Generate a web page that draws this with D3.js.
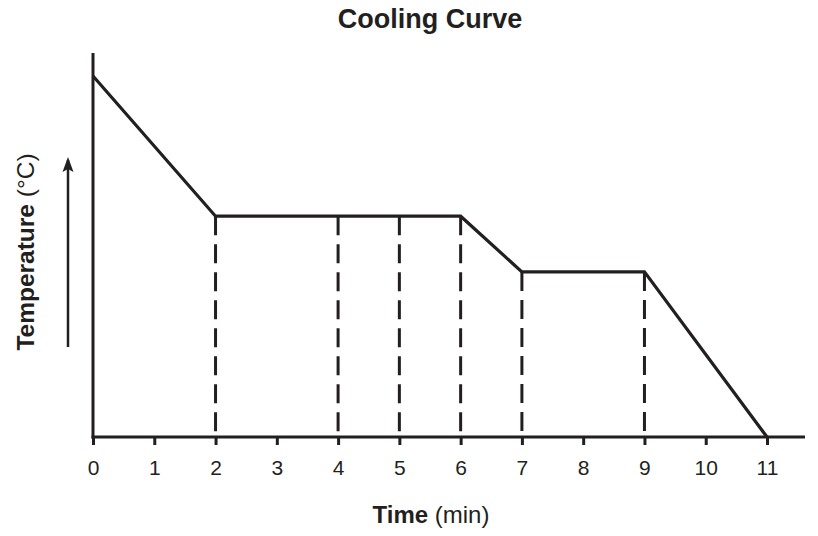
<!DOCTYPE html>
<html>
<head>
<meta charset="utf-8">
<script src="https://cdn.jsdelivr.net/npm/d3@7/dist/d3.min.js"></script>
<style>
  html, body { margin: 0; padding: 0; background: #fff; }
  text { font-family: "Liberation Sans", Arial, Helvetica, sans-serif; fill: #231f20; }
</style>
</head>
<body>
<svg id="chart" width="818" height="536"></svg>
<script>
// ---- data ----
const times = [0, 2, 6, 7, 9, 11];
const temps = [94, 57.5, 57.5, 43, 43, 0];
const dashTimes = [2, 4, 5, 6, 7, 9];
const dashTemps = [57.5, 57.5, 57.5, 57.5, 43, 43];
const tickValues = [0, 1, 2, 3, 4, 5, 6, 7, 8, 9, 10, 11];
const titleText = "Cooling Curve";
const xLabelBold = "Time", xLabelRest = " (min)";
const yLabelBold = "Temperature", yLabelRest = " (°C)";

// ---- layout ----
const ink = "#231f20";
const svg = d3.select("#chart");
const x = d3.scaleLinear().domain([0, 11]).range([93, 767]);
const y = d3.scaleLinear().domain([0, 100]).range([437, 53]);
const xAxisEnd = 805;

// dashed drop lines
svg.append("g").selectAll("line")
  .data(dashTimes.map((t, i) => ({ t, v: dashTemps[i] })))
  .join("line")
  .attr("x1", d => x(d.t)).attr("x2", d => x(d.t))
  .attr("y1", d => y(d.v)).attr("y2", y(0))
  .attr("stroke", ink).attr("stroke-width", 3)
  .attr("stroke-dasharray", "19,9");

// x axis
const xAxis = d3.axisBottom(x).tickValues(tickValues).tickSize(8).tickPadding(15).tickFormat(d3.format("d"));
const gx = svg.append("g").attr("transform", `translate(0,${y(0)})`).call(xAxis)
  .attr("font-size", 21).attr("font-family", "'Liberation Sans', Arial, sans-serif");
gx.select(".domain").remove();
gx.selectAll(".tick line").attr("stroke", ink).attr("stroke-width", 3);
gx.selectAll(".tick text").attr("font-size", 21).attr("fill", ink);
svg.append("line")
  .attr("x1", x(0) - 1.5).attr("x2", xAxisEnd)
  .attr("y1", y(0)).attr("y2", y(0))
  .attr("stroke", ink).attr("stroke-width", 3);

// y axis line
svg.append("line")
  .attr("x1", x(0)).attr("x2", x(0))
  .attr("y1", y(100)).attr("y2", y(0) + 1.5)
  .attr("stroke", ink).attr("stroke-width", 3);

// cooling curve
const line = d3.line().x(d => x(d[0])).y(d => y(d[1]));
svg.append("path")
  .datum(times.map((t, i) => [t, temps[i]]))
  .attr("d", line)
  .attr("fill", "none").attr("stroke", ink).attr("stroke-width", 3.2)
  .attr("stroke-linejoin", "miter");

// title
svg.append("text")
  .attr("x", 430).attr("y", 28)
  .attr("text-anchor", "middle")
  .attr("font-size", 27).attr("font-weight", "bold")
  .text(titleText);

// x label
const xl = svg.append("text")
  .attr("x", 431).attr("y", 523)
  .attr("text-anchor", "middle")
  .attr("font-size", 24);
xl.append("tspan").attr("font-weight", "bold").text(xLabelBold);
xl.append("tspan").attr("font-weight", "normal").text(xLabelRest);

// y label
const yl = svg.append("text")
  .attr("transform", "translate(34,252) rotate(-90)")
  .attr("text-anchor", "middle")
  .attr("font-size", 24.5);
yl.append("tspan").attr("font-weight", "bold").text(yLabelBold);
yl.append("tspan").attr("font-weight", "normal").text(yLabelRest);

// arrow
svg.append("line")
  .attr("x1", 68).attr("x2", 68)
  .attr("y1", 347).attr("y2", 160)
  .attr("stroke", ink).attr("stroke-width", 2.5);
svg.append("path")
  .attr("d", "M68,157 L62.5,172 L68,169 L73.5,172 Z")
  .attr("fill", ink);
</script>
</body>
</html>
